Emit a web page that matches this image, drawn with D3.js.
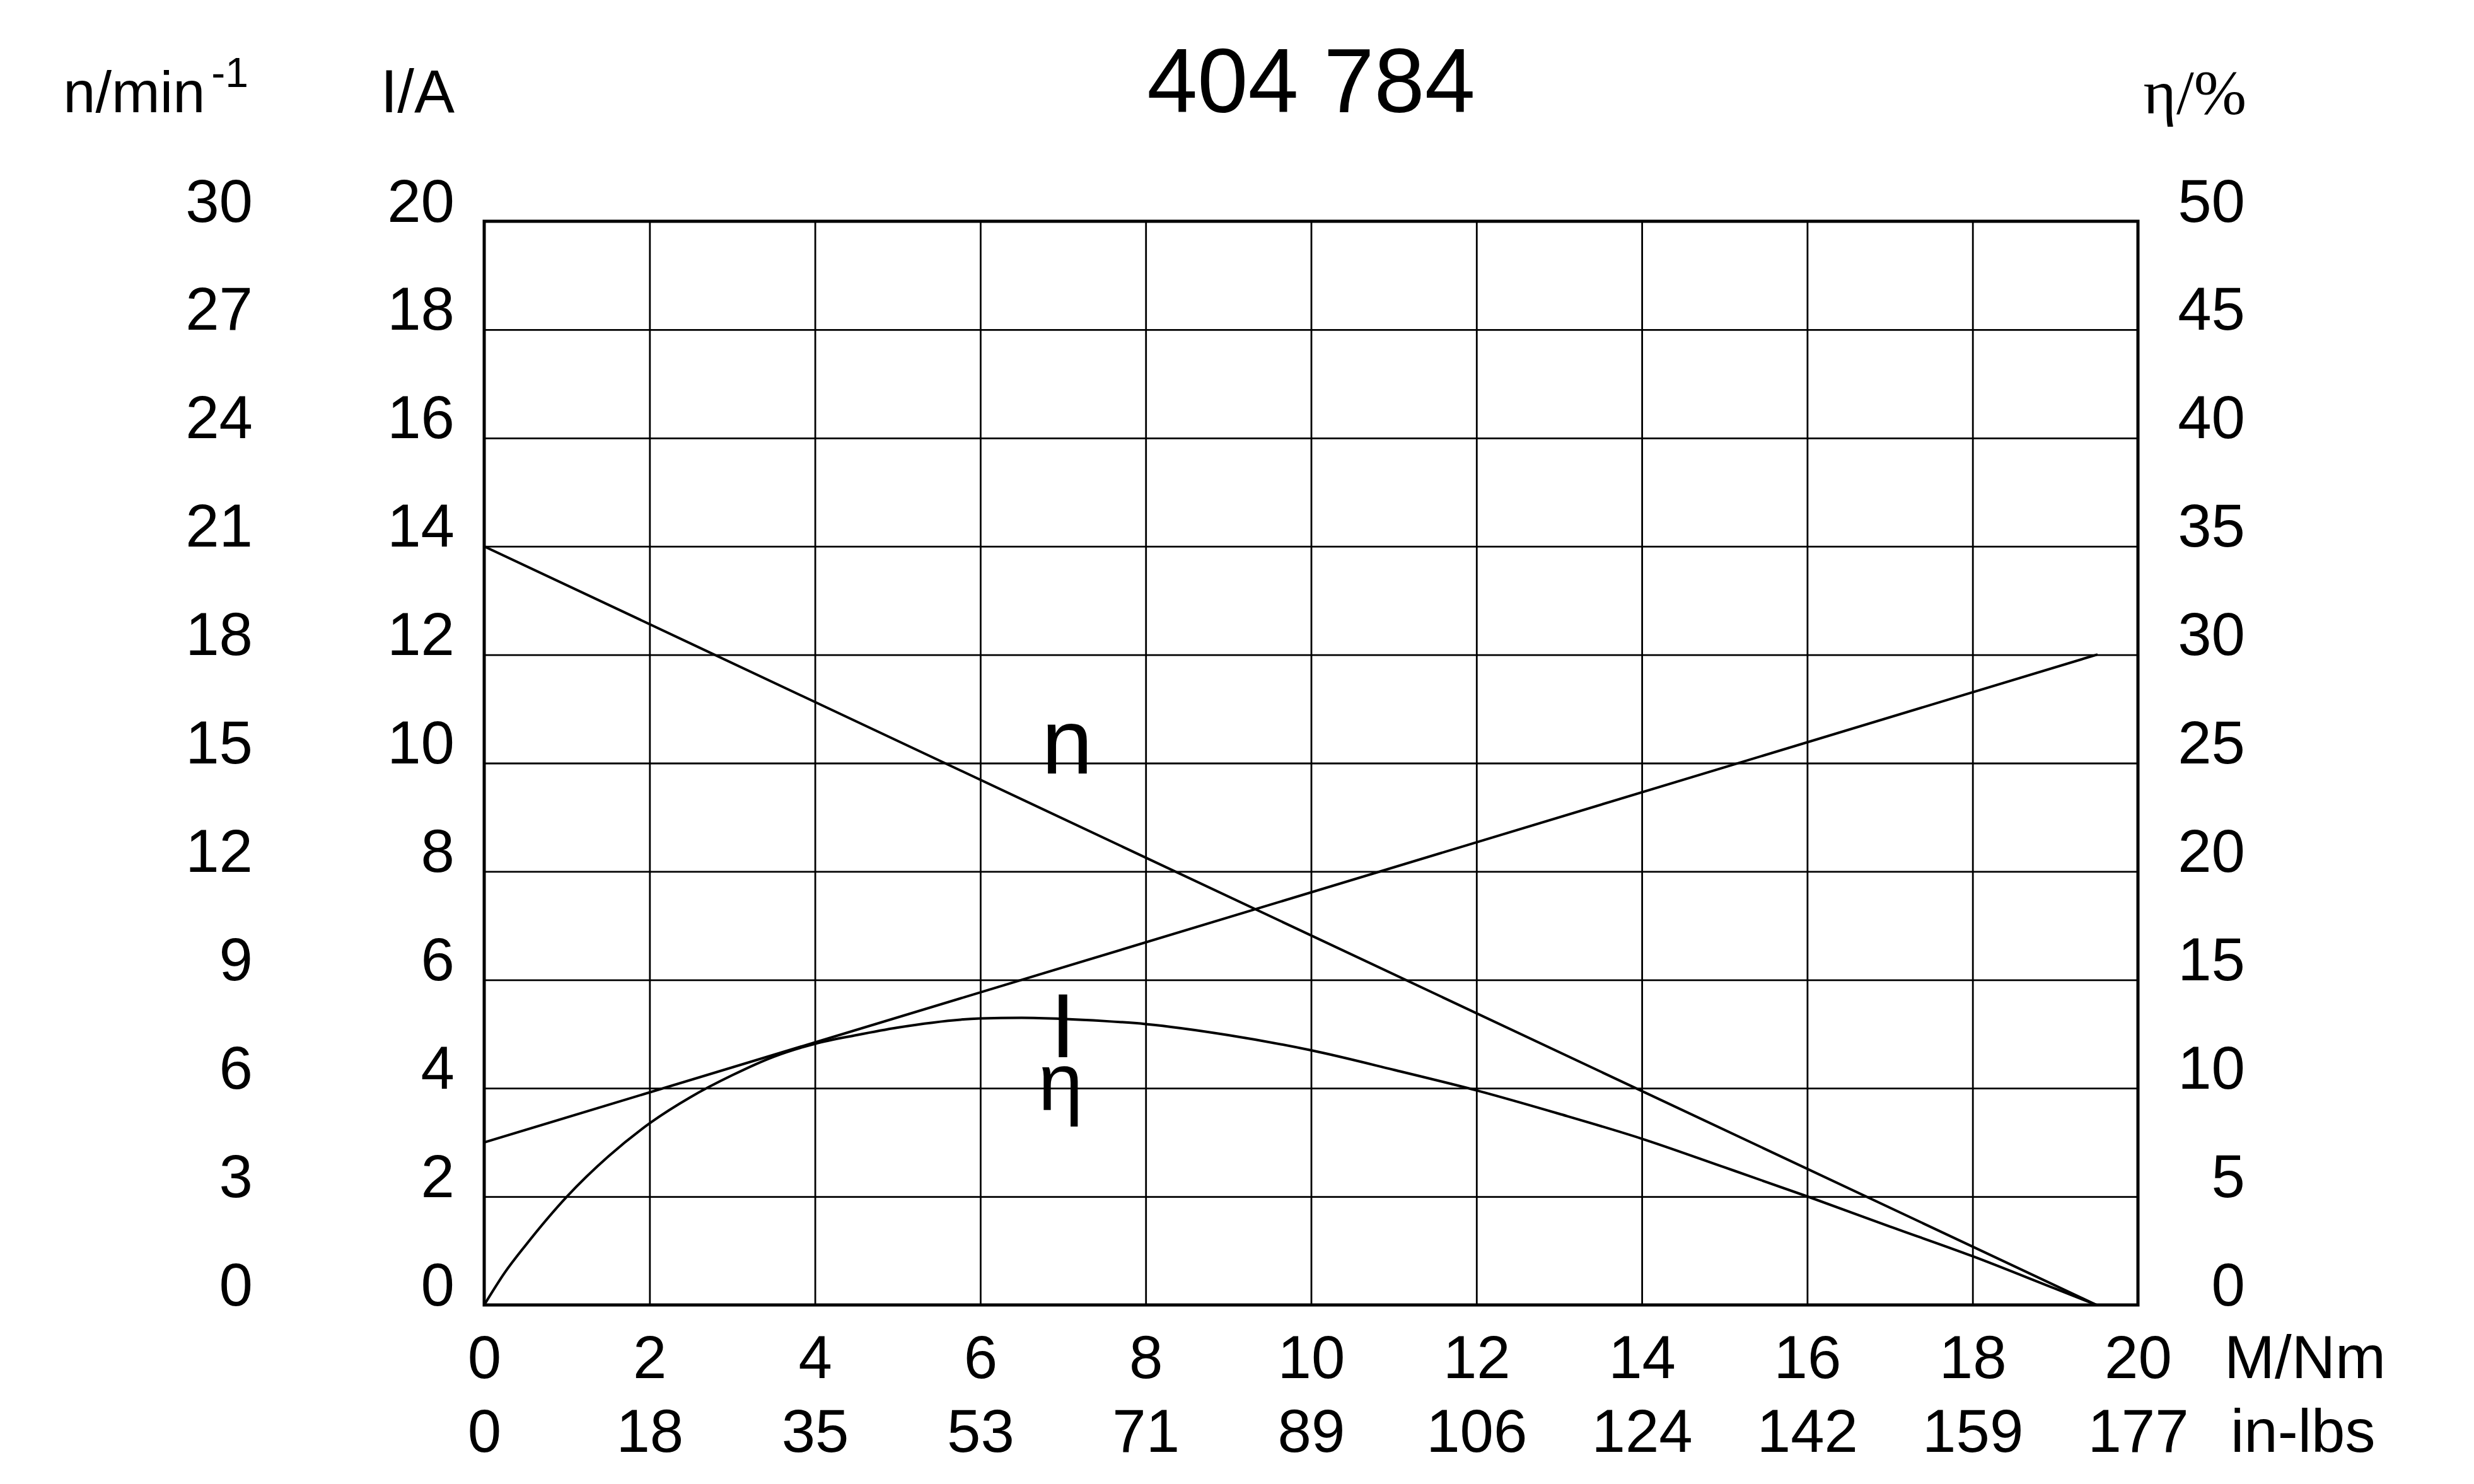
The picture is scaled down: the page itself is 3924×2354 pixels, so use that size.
<!DOCTYPE html>
<html>
<head>
<meta charset="utf-8">
<script src="https://cdn.jsdelivr.net/npm/d3@7"></script>
<style>
  html, body { margin: 0; padding: 0; background: #fff; }
  svg { display: block; }
</style>
</head>
<body>
<div id="chart"></div>
<script>
// ---------- data ----------
const title = "404 784";
const torqueTicks = [0, 2, 4, 6, 8, 10, 12, 14, 16, 18, 20];       // M / Nm
const inlbsLabels = ["0", "18", "35", "53", "71", "89", "106", "124", "142", "159", "177"];
const speedTicks = [0, 3, 6, 9, 12, 15, 18, 21, 24, 27, 30];        // n / min-1
const currentTicks = [0, 2, 4, 6, 8, 10, 12, 14, 16, 18, 20];       // I / A
const effTicks = [0, 5, 10, 15, 20, 25, 30, 35, 40, 45, 50];        // eta / %

// speed curve n(M)
const speedM = [0, 19.5];
const speedVals = [21, 0];
// current curve I(M)
const currentM = [0, 19.5];
const currentVals = [3.0, 12.0];
// efficiency curve eta(M)
const effM =    [0, 0.25, 0.5, 1, 1.5, 2, 2.5, 3, 3.5, 4, 4.5, 5, 6, 6.5, 7, 7.5, 8, 9, 10, 11, 12, 13, 14, 15, 16, 17, 18, 19, 19.5];
const effVals = [0, 1.5, 2.75, 5.0, 6.85, 8.38, 9.6, 10.6, 11.45, 12.05, 12.45, 12.8, 13.22, 13.25, 13.2, 13.1, 12.96, 12.45, 11.75, 10.85, 9.9, 8.82, 7.67, 6.35, 5.01, 3.62, 2.25, 0.75, 0];

// ---------- layout ----------
const W = 3924, H = 2354;
const L = 768, R = 3391, T = 351, B = 2070;
const SANS = "'Liberation Sans', Arial, Helvetica, sans-serif";
const SERIF = "'Liberation Serif', 'Times New Roman', serif";

const svg = d3.select("#chart").append("svg")
  .attr("width", W).attr("height", H)
  .attr("viewBox", `0 0 ${W} ${H}`);
svg.append("rect").attr("width", W).attr("height", H).attr("fill", "#fff");

const x = d3.scaleLinear().domain([0, 20]).range([L, R]);
const yI = d3.scaleLinear().domain([0, 20]).range([B, T]);
const yN = d3.scaleLinear().domain([0, 30]).range([B, T]);
const yE = d3.scaleLinear().domain([0, 50]).range([B, T]);

// ---------- grid ----------
const grid = svg.append("g");
grid.append("g")
  .attr("transform", `translate(0,${B})`)
  .call(d3.axisBottom(x).tickValues(torqueTicks.slice(1, -1)).tickSize(-(B - T)).tickFormat(""))
  .call(g => g.select(".domain").remove())
  .call(g => g.selectAll("line").attr("stroke", "#000").attr("stroke-width", 2.8));
grid.append("g")
  .attr("transform", `translate(${L},0)`)
  .call(d3.axisLeft(yI).tickValues(currentTicks.slice(1, -1)).tickSize(-(R - L)).tickFormat(""))
  .call(g => g.select(".domain").remove())
  .call(g => g.selectAll("line").attr("stroke", "#000").attr("stroke-width", 2.8));

// ---------- curves ----------
const curves = svg.append("g").attr("fill", "none").attr("stroke", "#000")
  .attr("stroke-width", 4).attr("stroke-linejoin", "round").attr("stroke-linecap", "round");

curves.append("path")
  .attr("d", d3.line().x((d, i) => x(speedM[i])).y(d => yN(d))(speedVals));
curves.append("path")
  .attr("d", d3.line().x((d, i) => x(currentM[i])).y(d => yI(d))(currentVals));
curves.append("path")
  .attr("d", d3.line().curve(d3.curveMonotoneX).x((d, i) => x(effM[i])).y(d => yE(d))(effVals));

// border
svg.append("rect")
  .attr("x", L).attr("y", T).attr("width", R - L).attr("height", B - T)
  .attr("fill", "none").attr("stroke", "#000").attr("stroke-width", 5);

// ---------- axis labels ----------
function styleText(g, size, family) {
  g.select(".domain").remove();
  g.selectAll(".tick line").remove();
  g.attr("font-family", family).attr("font-size", size);
  g.selectAll("text").attr("fill", "#000").attr("dy", null);
}
const FS = 96;

// bottom, Nm
svg.append("g")
  .attr("transform", `translate(0,2186)`)
  .call(d3.axisBottom(x).tickValues(torqueTicks).tickSize(0).tickPadding(0).tickFormat(d3.format("d")))
  .call(g => styleText(g, FS, SANS))
  .call(g => g.selectAll("text").attr("y", 0));
// bottom, in-lbs
svg.append("g")
  .attr("transform", `translate(0,2303)`)
  .call(d3.axisBottom(x).tickValues(torqueTicks).tickSize(0).tickPadding(0).tickFormat((d, i) => inlbsLabels[i]))
  .call(g => styleText(g, FS, SANS))
  .call(g => g.selectAll("text").attr("y", 0));

// left speed
svg.append("g")
  .attr("transform", `translate(401,0)`)
  .call(d3.axisLeft(yN).tickValues(speedTicks).tickSize(0).tickPadding(0).tickFormat(d3.format("d")))
  .call(g => styleText(g, FS, SANS))
  .call(g => g.selectAll("text").attr("x", 0));
// left current
svg.append("g")
  .attr("transform", `translate(721,0)`)
  .call(d3.axisLeft(yI).tickValues(currentTicks).tickSize(0).tickPadding(0).tickFormat(d3.format("d")))
  .call(g => styleText(g, FS, SANS))
  .call(g => g.selectAll("text").attr("x", 0));
// right efficiency
svg.append("g")
  .attr("transform", `translate(3561,0)`)
  .call(d3.axisLeft(yE).tickValues(effTicks).tickSize(0).tickPadding(0).tickFormat(d3.format("d")))
  .call(g => styleText(g, FS, SANS))
  .call(g => g.selectAll("text").attr("x", 0));

// unit labels
const units = svg.append("g").attr("fill", "#000");
const nUnit = units.append("text").attr("x", 394).attr("y", 178)
  .attr("text-anchor", "end").attr("font-family", SANS).attr("font-size", 92);
nUnit.append("tspan").text("n/min");
nUnit.append("tspan").attr("font-size", 66).attr("dy", -40).attr("dx", 10).text("-1");

units.append("text").attr("x", 721).attr("y", 178).attr("text-anchor", "end")
  .attr("font-family", SANS).attr("font-size", FS).text("I/A");
units.append("text").attr("x", 3563).attr("y", 180).attr("text-anchor", "end")
  .attr("font-family", SERIF).attr("font-size", 100).text("η/%");
units.append("text").attr("x", 3528).attr("y", 2186).attr("text-anchor", "start")
  .attr("font-family", SANS).attr("font-size", FS).text("M/Nm");
units.append("text").attr("x", 3538).attr("y", 2303).attr("text-anchor", "start")
  .attr("font-family", SANS).attr("font-size", FS).text("in-lbs");

// title
svg.append("text").attr("x", (L + R) / 2).attr("y", 178).attr("text-anchor", "middle")
  .attr("font-family", SANS).attr("font-size", 144).attr("fill", "#000").text(title);

// curve labels
const lab = svg.append("g").attr("fill", "#000").attr("font-family", SANS);
lab.append("text").attr("x", 1652).attr("y", 1227).attr("font-size", 146).text("n");
lab.append("text").attr("x", 1686).attr("y", 1677).attr("text-anchor", "middle").attr("font-size", 144).text("I");
lab.append("text").attr("x", 1682).attr("y", 1760).attr("text-anchor", "middle").attr("font-size", 128).text("η");
</script>
</body>
</html>
